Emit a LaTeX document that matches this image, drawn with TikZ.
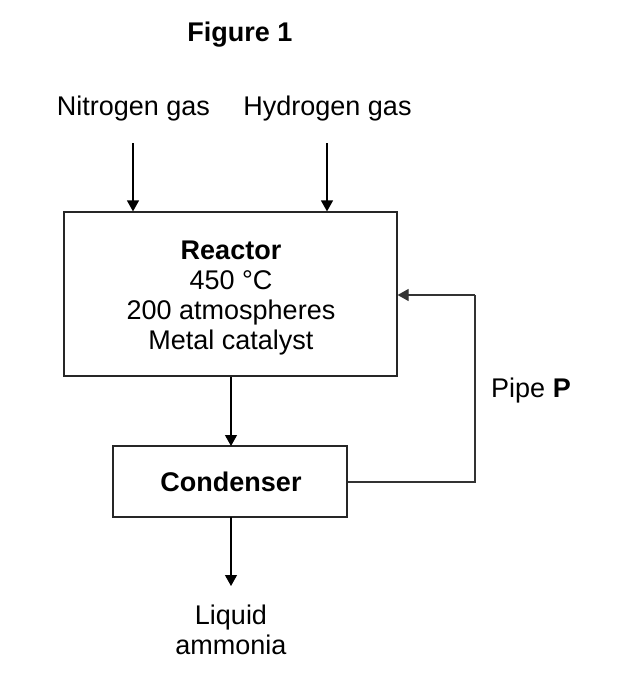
\documentclass[tikz,border=0pt]{standalone}
\usepackage{fontspec}
\setmainfont{Liberation Sans}
\usetikzlibrary{arrows.meta}
\begin{document}
\begin{tikzpicture}[x=1pt,y=1pt,
  every node/.style={font=\fontsize{27}{30}\selectfont},
  boxstyle/.style={draw=black!85, line width=1.2pt, inner sep=0pt},
  flow/.style={line width=1.2pt, -{Triangle[width=12pt,length=11pt]}},
  pipe/.style={line width=1.2pt, draw=black!80}]
\useasboundingbox (0,0) rectangle (620,-690);
\node[anchor=base,font=\fontsize{27}{30}\selectfont\bfseries] (title) at (240,-42) {Figure 1};
\node[anchor=base] (n2) at (133.5,-116) {Nitrogen gas};
\node[anchor=base] (h2) at (327.5,-116) {Hydrogen gas};
\coordinate (n2s) at (133,-143);
\coordinate (h2s) at (327,-143);
\node[boxstyle, minimum width=333pt, minimum height=164pt] (reactor) at (230.5,-294) {};
\node[align=center, anchor=base] (rtext) at (231,-349) {\textbf{Reactor}\\450 °C\\200 atmospheres\\Metal catalyst};
\node[boxstyle, minimum width=234pt, minimum height=71pt] (cond) at (230,-481.5) {};
\node[anchor=base, font=\fontsize{27}{30}\selectfont\bfseries] (ctext) at (231,-491) {Condenser};
\node[anchor=base] (pipe) at (531,-397) {Pipe \textbf{P}};
\node[align=center, anchor=base] (liq) at (231,-654) {Liquid\\ammonia};
\draw[flow] (n2s) -- (n2s |- reactor.north);
\draw[flow] (h2s) -- (h2s |- reactor.north);
\draw[flow] (reactor.south -| 231,0) -- (231,-446);
\coordinate (cb) at (231,-517);
\coordinate (lt) at (231,-586);
\draw[flow] (cb) -- (lt);
\coordinate (c1) at (475,-482);
\coordinate (c2) at (475,-295);
\draw[pipe] (cond.east |- c1) -- (c1) -- (c2);
\draw[flow, draw=black!80] (c2) -- (reactor.east |- c2);
\end{tikzpicture}
\end{document}
